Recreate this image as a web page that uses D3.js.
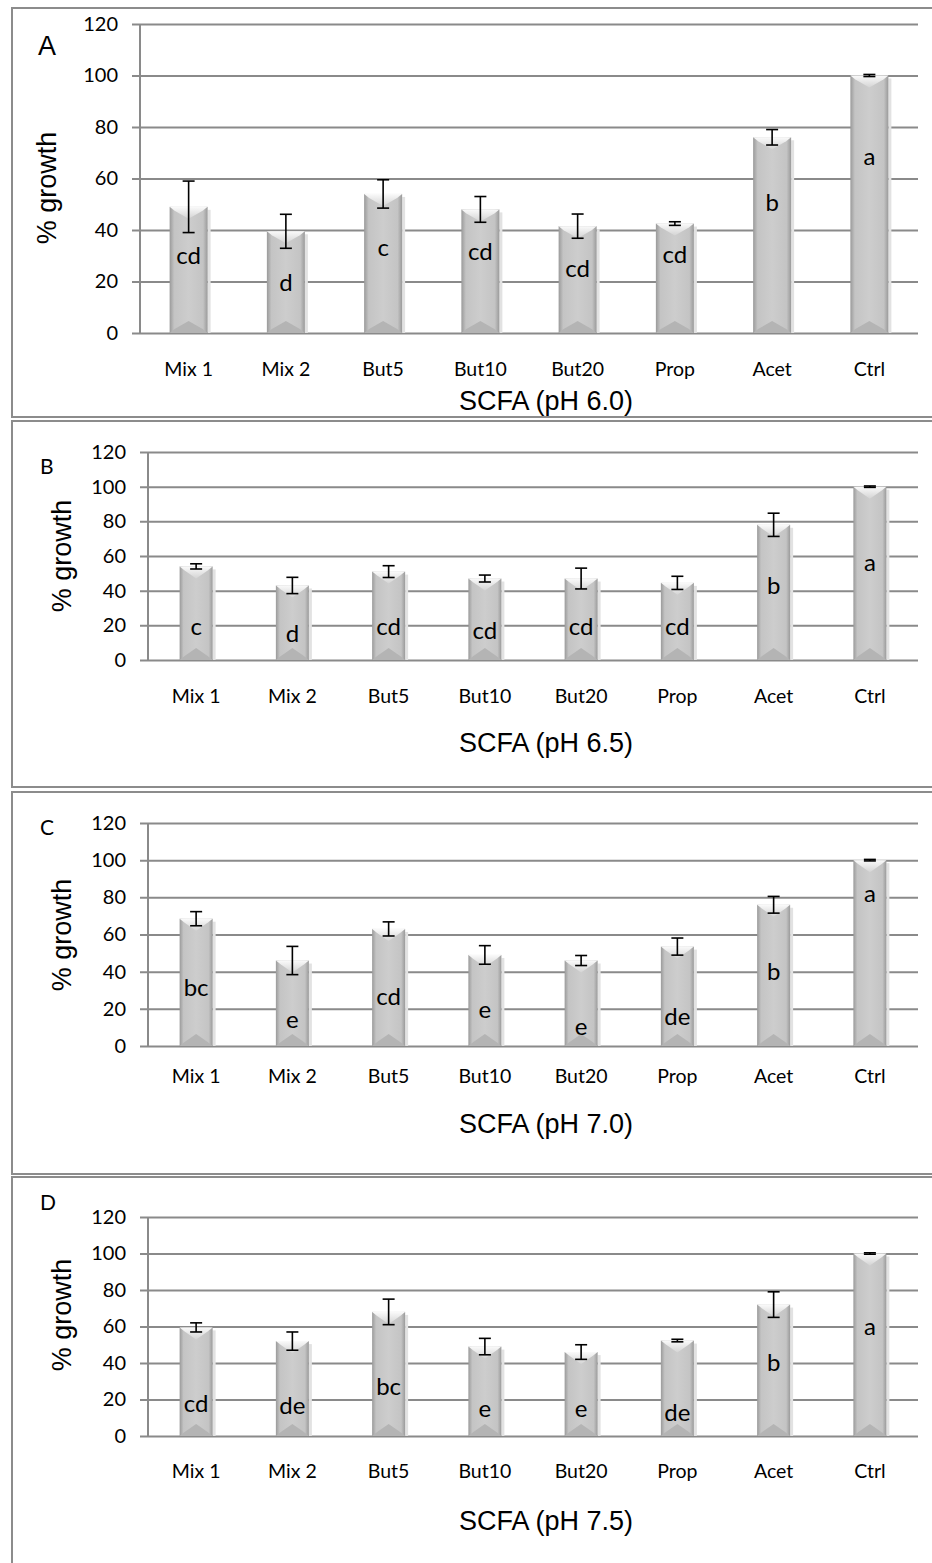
<!DOCTYPE html>
<html>
<head>
<meta charset="utf-8">
<script src="https://cdnjs.cloudflare.com/ajax/libs/d3/7.8.5/d3.min.js"></script>
<style>
  body { margin: 0; background: #fff; }
  .tick-lbl { font-family: Lato, "Open Sans", sans-serif; font-size: 20px; fill: #000; }
  .cat-lbl { font-family: Lato, "Open Sans", sans-serif; font-size: 19.5px; fill: #000; }
  .grp { font-family: Lato, "Open Sans", sans-serif; font-size: 24px; fill: #000; }
  .axis-title { font-family: "Liberation Sans", Arial, sans-serif; font-size: 27px; fill: #000; }
</style>
</head>
<body>
<svg width="932" height="1563"></svg>
<script>
var categories = ["Mix 1", "Mix 2", "But5", "But10", "But20", "Prop", "Acet", "Ctrl"];
var yTicks = [0, 20, 40, 60, 80, 100, 120];
var panelNames = ["A", "B", "C", "D"];
var xTitles = ["SCFA (pH 6.0)", "SCFA (pH 6.5)", "SCFA (pH 7.0)", "SCFA (pH 7.5)"];

// % growth, one array per pH
var growthA = [49, 39.5, 54, 48, 41.5, 42.5, 76, 100];
var growthB = [54, 43, 51, 47, 47, 44.5, 78, 100];
var growthC = [68.5, 46, 63, 49, 46, 53.5, 76, 100];
var growthD = [59.5, 52, 68, 49, 46, 52.3, 72, 100];

// error (+/-)
var errA = [10, 6.6, 5.5, 5, 4.7, 0.7, 3, 0.4];
var errB = [1.5, 4.7, 3.4, 2, 6, 3.8, 6.7, 0.4];
var errC = [3.8, 7.6, 3.8, 5, 2.7, 4.6, 4.5, 0.4];
var errD = [2.5, 5, 7, 4.5, 4, 0.7, 7, 0.4];

// significance letters and the height (in % growth) they sit at
var lettersA = ["cd", "d", "c", "cd", "cd", "cd", "b", "a"];
var lettersB = ["c", "d", "cd", "cd", "cd", "cd", "b", "a"];
var lettersC = ["bc", "e", "cd", "e", "e", "de", "b", "a"];
var lettersD = ["cd", "de", "bc", "e", "e", "de", "b", "a"];
var letterYA = [30, 19.5, 33, 31.5, 25, 30.3, 50.6, 68.5];
var letterYB = [19.3, 15.3, 19.3, 17, 19, 19, 43, 56];
var letterYC = [31.5, 14, 26.6, 19.6, 10.7, 16, 40, 82];
var letterYD = [17.5, 16.5, 27, 15, 15, 13, 40, 60];

var panels = [
  {vals: growthA, err: errA, letters: lettersA, ly: letterYA,
   box: [12, 8, 940, 409], left: 140, right: 918, top: 24, bottom: 333, barW: 38,
   catY: 376, titleY: 410, nameX: 38, nameY: 55, nameSize: 27, ylabX: 56, ylabY: 188},
  {vals: growthB, err: errB, letters: lettersB, ly: letterYB,
   box: [12, 421, 940, 366], left: 148, right: 918, top: 452, bottom: 660, barW: 33,
   catY: 703, titleY: 752, nameX: 40, nameY: 474, nameSize: 21, ylabX: 71, ylabY: 556},
  {vals: growthC, err: errC, letters: lettersC, ly: letterYC,
   box: [12, 792, 940, 382], left: 148, right: 918, top: 823, bottom: 1046, barW: 33,
   catY: 1083, titleY: 1133, nameX: 40, nameY: 835, nameSize: 21, ylabX: 71, ylabY: 935},
  {vals: growthD, err: errD, letters: lettersD, ly: letterYD,
   box: [12, 1177, 940, 400], left: 148, right: 918, top: 1217, bottom: 1436, barW: 33,
   catY: 1478, titleY: 1530, nameX: 40, nameY: 1210, nameSize: 21, ylabX: 71, ylabY: 1315}
];

var svg = d3.select("svg");
var defs = svg.append("defs");

var side = defs.append("linearGradient").attr("id", "barSide")
    .attr("x1", "0%").attr("x2", "100%").attr("y1", "0%").attr("y2", "0%");
side.append("stop").attr("offset", "0%").attr("stop-color", "#9a9a9a");
side.append("stop").attr("offset", "12%").attr("stop-color", "#c4c4c4");
side.append("stop").attr("offset", "50%").attr("stop-color", "#cdcdcd");
side.append("stop").attr("offset", "88%").attr("stop-color", "#c4c4c4");
side.append("stop").attr("offset", "100%").attr("stop-color", "#9a9a9a");

var cap = defs.append("linearGradient").attr("id", "barCap")
    .attr("x1", "0%").attr("x2", "0%").attr("y1", "0%").attr("y2", "100%");
cap.append("stop").attr("offset", "0%").attr("stop-color", "#fafafa");
cap.append("stop").attr("offset", "100%").attr("stop-color", "#d4d4d4");

panels.forEach(function (p, i) {
  var b = p.box;
  svg.append("rect")
      .attr("x", b[0]).attr("y", b[1]).attr("width", b[2]).attr("height", b[3])
      .attr("fill", "none").attr("stroke", "#8c8c8c").attr("stroke-width", 2);

  var x = d3.scaleBand().domain(categories).range([p.left, p.right]);
  var y = d3.scaleLinear().domain([0, 120]).range([p.bottom, p.top]);
  var g = svg.append("g");

  // gridlines + tick labels
  var yAxis = d3.axisLeft(y).tickValues(yTicks).tickSize(-(p.right - p.left)).tickPadding(22);
  var ya = g.append("g").attr("transform", "translate(" + p.left + ",0)").call(yAxis);
  ya.select(".domain").remove();
  ya.selectAll(".tick line").attr("stroke", "#8a8a8a").attr("stroke-width", 2).attr("x1", -8);
  ya.selectAll(".tick text").attr("class", "tick-lbl").attr("fill", "#000").attr("font-size", null).attr("font-family", null);

  g.append("line")
      .attr("x1", p.left).attr("x2", p.left).attr("y1", p.top).attr("y2", p.bottom)
      .attr("stroke", "#8a8a8a").attr("stroke-width", 2);

  // bars
  var bars = g.selectAll(".bar").data(p.vals).enter().append("g").attr("class", "bar");
  bars.each(function (v, j) {
    var sel = d3.select(this);
    var cx = x(categories[j]) + x.bandwidth() / 2;
    var x0 = cx - p.barW / 2, x1 = cx + p.barW / 2;
    var top = y(v), bot = y(0);
    var bev = Math.min(12, (bot - top) / 2);
    sel.append("rect").attr("x", x1).attr("y", top + 3).attr("width", 3).attr("height", bot - top - 3)
        .attr("fill", "#e2e2e2");
    sel.append("rect").attr("x", x0).attr("y", top).attr("width", p.barW).attr("height", bot - top)
        .attr("fill", "url(#barSide)");
    sel.append("path")
        .attr("d", "M" + x0 + "," + top + "L" + x1 + "," + top + "L" + (x1 - 5) + "," + (top + 4) +
          "L" + cx + "," + (top + bev) + "L" + (x0 + 5) + "," + (top + 4) + "Z")
        .attr("fill", "url(#barCap)");
    sel.append("path")
        .attr("d", "M" + x0 + "," + bot + "L" + x1 + "," + bot + "L" + (x1 - 5) + "," + (bot - 4) +
          "L" + cx + "," + (bot - bev) + "L" + (x0 + 5) + "," + (bot - 4) + "Z")
        .attr("fill", "#b4b4b4");

    // error bar
    var e = p.err[j];
    sel.append("line").attr("x1", cx).attr("x2", cx).attr("y1", y(v + e)).attr("y2", y(v - e))
        .attr("stroke", "#000").attr("stroke-width", 1.6);
    [v + e, v - e].forEach(function (t) {
      sel.append("line").attr("x1", cx - 6).attr("x2", cx + 6).attr("y1", y(t)).attr("y2", y(t))
          .attr("stroke", "#000").attr("stroke-width", 1.6);
    });

    sel.append("text").attr("class", "grp")
        .attr("x", cx).attr("y", y(p.ly[j])).attr("dy", "0.35em")
        .attr("text-anchor", "middle").text(p.letters[j]);
  });

  // category labels
  g.selectAll(".cat-lbl").data(categories).enter().append("text")
      .attr("class", "cat-lbl")
      .attr("x", function (d) { return x(d) + x.bandwidth() / 2; })
      .attr("y", p.catY).attr("text-anchor", "middle").text(function (d) { return d; });

  g.append("text").attr("class", "axis-title")
      .attr("x", 546).attr("y", p.titleY)
      .attr("text-anchor", "middle").text(xTitles[i]);

  g.append("text").attr("class", "axis-title")
      .attr("transform", "translate(" + p.ylabX + "," + p.ylabY + ") rotate(-90)")
      .attr("text-anchor", "middle").text("% growth");

  g.append("text")
      .attr("x", p.nameX).attr("y", p.nameY)
      .attr("font-family", i === 0 ? "Liberation Sans, Arial, sans-serif" : "Lato, sans-serif")
      .attr("font-size", p.nameSize).text(panelNames[i]);
});
</script>
</body>
</html>
